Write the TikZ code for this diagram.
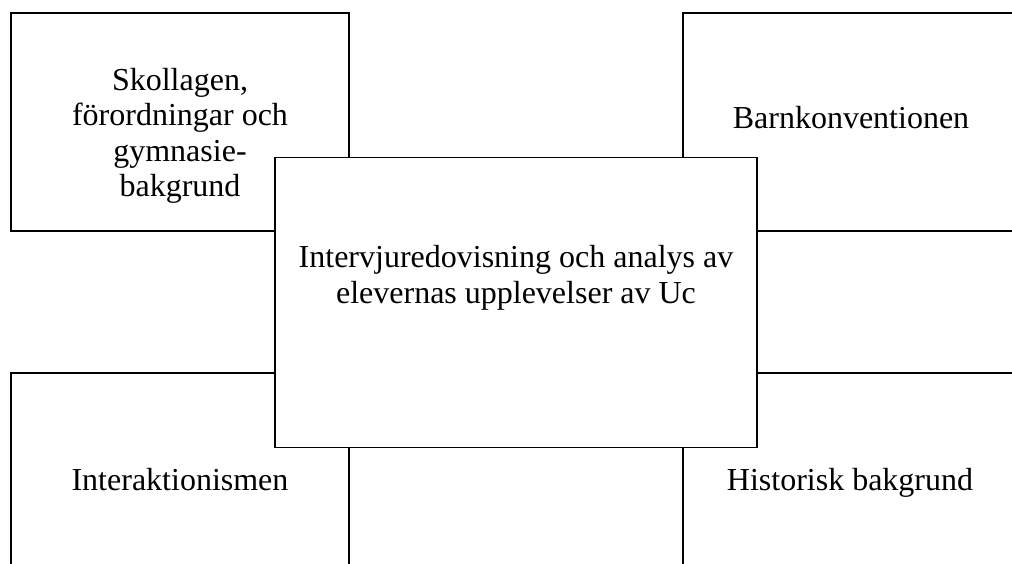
\documentclass[tikz,border=0pt]{standalone}
\usepackage{fontspec}
\setmainfont{Liberation Serif}
\begin{document}
\begin{tikzpicture}[x=1pt,y=-1pt,
  box/.style={draw, line width=1.2pt, inner sep=0pt, outer sep=0pt, anchor=north west},
  outerbox/.style={box, minimum width=338pt, minimum height=218pt},
  lbl/.style={align=center, inner sep=0pt, font=\fontsize{32}{35.5}\selectfont}]
\useasboundingbox (0,0) rectangle (1012,563);
\clip (0,0) rectangle (1012,563);
\node[outerbox] (tl) at (11,13) {};
\node[outerbox] (tr) at (683,13) {};
\node[outerbox] (bl) at (11,373) {};
\node[outerbox] (br) at (683,373) {};
\node[box, fill=white, minimum width=482pt, minimum height=290pt] (c) at (275,157.5) {};
\node[lbl] (tltext) at (180,136) {Skollagen,\\förordningar och\\gymnasie-\\bakgrund};
\node[lbl] (trtext) at (851,118) {Barnkonventionen};
\node[lbl] (bltext) at (180,480) {Interaktionismen};
\node[lbl] (brtext) at (850,483) {Historisk bakgrund};
\node[lbl] (ctext) at (516,278) {Intervjuredovisning och analys av\\elevernas upplevelser av Uc};
\end{tikzpicture}
\end{document}
